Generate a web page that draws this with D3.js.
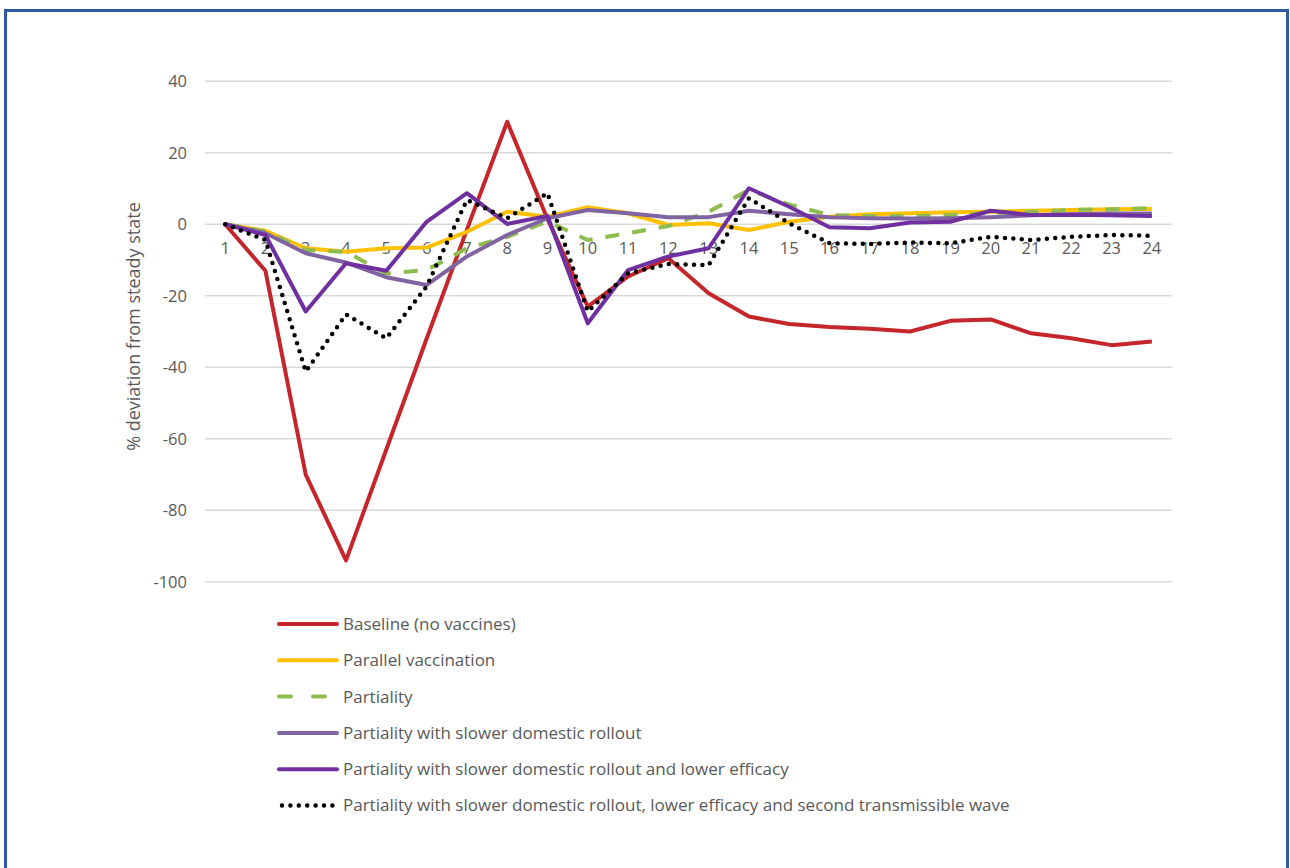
<!DOCTYPE html>
<html>
<head>
<meta charset="utf-8">
<script src="https://cdn.jsdelivr.net/npm/d3@7"></script>
<style>
  html, body { margin: 0; padding: 0; background: #fff; }
  svg { display: block; }
  text { font-family: "Open Sans", "Liberation Sans", sans-serif; }
</style>
</head>
<body>
<svg id="chart" width="1290" height="868"></svg>
<script>
// ---- data ----
const categories = d3.range(1, 25).map(String);
const yTicks = [-100, -80, -60, -40, -20, 0, 20, 40];
const yLabel = "% deviation from steady state";

const baseline = [0, -13, -70, -94, -63, -32, -1.5, 28.7, 1.5, -23, -14.6, -9.5, -19.3, -25.8, -27.9, -28.7, -29.2, -30, -27, -26.6, -30.5, -31.9, -33.8, -32.8];
const parallel = [0, -1.8, -6.7, -7.7, -6.7, -6.5, -2.1, 3.5, 2.1, 4.8, 3.1, -0.2, 0.3, -1.6, 0.7, 2.1, 2.8, 3.1, 3.4, 3.5, 3.8, 4.0, 4.2, 4.3];
const partiality = [0, -2, -7.2, -7.7, -13.8, -12.8, -6.7, -3.5, 0.8, -4.4, -2.5, -0.5, 3.5, 9.6, 5.5, 2.6, 2.3, 2.3, 2.6, 3.2, 3.5, 4.0, 4.2, 4.5];
const slower = [0, -2.5, -8.1, -10.7, -14.8, -17, -9, -3, 1.7, 4, 3.1, 2, 2, 3.8, 2.8, 2, 1.7, 1.6, 1.7, 2, 2.5, 2.8, 3, 3];
const slowerLowEff = [0, -3, -24.4, -10.9, -13, 0.7, 8.7, 0.1, 2.3, -27.7, -12.8, -9, -6.7, 10.1, 4.9, -0.8, -1.1, 0.5, 0.7, 3.8, 2.6, 2.7, 2.5, 2.3];
const secondWave = [0, -4.4, -41.2, -25.2, -31.9, -17.4, 6.8, 1.7, 8.7, -24.4, -13.7, -11.1, -11.4, 7.3, 0.3, -5.3, -5.5, -5.1, -5.3, -3.5, -4.4, -3.5, -3, -3.2];

const seriesNames = [
  "Baseline (no vaccines)",
  "Parallel vaccination",
  "Partiality",
  "Partiality with slower domestic rollout",
  "Partiality with slower domestic rollout and lower efficacy",
  "Partiality with slower domestic rollout, lower efficacy and second transmissible wave"
];
const seriesValues = [baseline, parallel, partiality, slower, slowerLowEff, secondWave];
const seriesStyles = [
  { color: "#C4262B", width: 4, dash: null, cap: "butt" },
  { color: "#FFC000", width: 4, dash: null, cap: "butt" },
  { color: "#8FBC4F", width: 4, dash: "14 13", cap: "butt" },
  { color: "#8064A2", width: 4, dash: null, cap: "butt" },
  { color: "#7030A0", width: 4, dash: null, cap: "butt" },
  { color: "#000000", width: 4.5, dash: "0 8.4", cap: "round" }
];

// ---- layout ----
const svg = d3.select("#chart");
const plot = { left: 205, right: 1172, top: 81.3, bottom: 581.8 };
const FONT = "'Open Sans', 'Liberation Sans', sans-serif";

// frame
svg.append("rect")
  .attr("x", 5.5).attr("y", 10.5)
  .attr("width", 1282).attr("height", 880)
  .attr("fill", "none").attr("stroke", "#2F5C9E").attr("stroke-width", 3);

const x = d3.scaleBand().domain(categories).range([plot.left, plot.right]).padding(0);
const y = d3.scaleLinear().domain([-100, 40]).range([plot.bottom, plot.top]);
const cx = c => x(c) + x.bandwidth() / 2;

// gridlines
svg.append("g")
  .selectAll("line").data(yTicks).join("line")
  .attr("x1", plot.left).attr("x2", plot.right)
  .attr("y1", d => y(d)).attr("y2", d => y(d))
  .attr("stroke", "#D9D9D9").attr("stroke-width", 1.5);

// y axis
const yAxis = svg.append("g")
  .attr("transform", `translate(${plot.left},0)`)
  .call(d3.axisLeft(y).tickValues(yTicks).tickSize(0).tickPadding(18).tickFormat(d => String(d)));
yAxis.select(".domain").remove();
yAxis.selectAll("text").attr("fill", "#595959").style("font-size", "16.5px").style("font-family", FONT);

// x axis at y=0
const xAxis = svg.append("g")
  .attr("transform", `translate(0,${y(0)})`)
  .call(d3.axisBottom(x).tickSize(0).tickPadding(18));
xAxis.select(".domain").remove();
xAxis.selectAll("text").attr("fill", "#595959").style("font-size", "16.5px").style("font-family", FONT);

// y label
svg.append("text")
  .attr("transform", `translate(134,${(plot.top + plot.bottom) / 2 - 5}) rotate(-90)`)
  .attr("text-anchor", "middle")
  .attr("dy", "0.35em")
  .attr("fill", "#595959")
  .style("font-size", "18px")
  .text(yLabel);

// lines
const line = d3.line().x((d, i) => cx(categories[i])).y(d => y(d));
seriesValues.forEach((vals, i) => {
  const s = seriesStyles[i];
  svg.append("path")
    .datum(vals)
    .attr("d", line)
    .attr("fill", "none")
    .attr("stroke", s.color)
    .attr("stroke-width", s.width)
    .attr("stroke-linejoin", "round")
    .attr("stroke-linecap", s.cap)
    .attr("stroke-dasharray", s.dash);
});

// legend
const legend = svg.append("g");
const legY0 = 624, legDy = 36.3;
seriesNames.forEach((name, i) => {
  const s = seriesStyles[i];
  const gy = legY0 + i * legDy;
  legend.append("line")
    .attr("x1", i === 5 ? 282 : 279).attr("x2", i === 5 ? 334 : 337)
    .attr("y1", gy).attr("y2", gy)
    .attr("stroke", s.color)
    .attr("stroke-width", s.width)
    .attr("stroke-linecap", "round")
    .attr("stroke-dasharray", i === 2 ? "12 22" : s.dash);
  legend.append("text")
    .attr("x", 343).attr("y", gy)
    .attr("dy", "0.35em")
    .attr("fill", "#595959")
    .style("font-size", "17px")
    .text(name);
});
</script>
</body>
</html>
